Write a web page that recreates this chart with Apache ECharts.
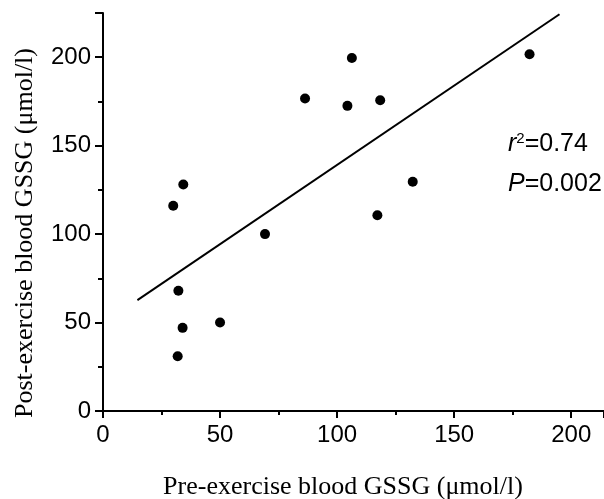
<!DOCTYPE html>
<html>
<head>
<meta charset="utf-8">
<script src="https://cdn.jsdelivr.net/npm/echarts@6/dist/echarts.min.js"></script>
<style>
  html, body { margin: 0; padding: 0; background: #fff; }
  #main { width: 604px; height: 499px; }
</style>
</head>
<body>
<div id="main"></div>
<script>
// pre vs post exercise GSSG values
var preGSSG = [30, 34.3, 69.2, 106.3, 182.2, 86.3, 104.4, 118.4, 132.3, 117.2, 32.2, 34, 50, 31.9]
var postGSSG = [116, 128, 100, 199.6, 201.7, 176.7, 172.5, 175.7, 129.6, 110.7, 68, 47, 50, 31]
// regression line end points
var fitX = [14.7, 195]
var fitY = [62.7, 224.3]

var points = preGSSG.map(function (x, i) { return [x, postGSSG[i]] })
var fitLine = fitX.map(function (x, i) { return [x, fitY[i]] })

var myChart = echarts.init(document.getElementById('main'))

var option = {
  animation: false,
  grid: { left: 103, right: 0, top: 13, bottom: 88, containLabel: false },
  xAxis: {
    type: 'value',
    min: 0,
    max: 214,
    interval: 50,
    splitLine: { show: false },
    axisLine: { onZero: false, lineStyle: { color: '#000', width: 2 } },
    axisTick: { length: 7, lineStyle: { color: '#000', width: 2 } },
    minorTick: { show: true, splitNumber: 2, length: 4, lineStyle: { color: '#000', width: 2 } },
    axisLabel: {
      color: '#000', fontSize: 24, fontFamily: 'Liberation Sans, Arial', margin: 12,
      showMaxLabel: false
    }
  },
  yAxis: {
    type: 'value',
    min: 0,
    max: 225,
    interval: 50,
    splitLine: { show: false },
    axisLine: { onZero: false, lineStyle: { color: '#000', width: 2 } },
    axisTick: { length: 8, lineStyle: { color: '#000', width: 2 } },
    minorTick: { show: true, splitNumber: 2, length: 5, lineStyle: { color: '#000', width: 2 } },
    axisLabel: {
      color: '#000', fontSize: 24, fontFamily: 'Liberation Sans, Arial', margin: 12,
      showMaxLabel: false
    }
  },
  graphic: [
    {
      type: 'text', x: 343, y: 474,
      style: {
        text: 'Pre-exercise blood GSSG (μmol/l)',
        font: '26px "Liberation Serif", "Times New Roman", serif',
        fill: '#000', align: 'center', verticalAlign: 'top'
      }
    },
    {
      type: 'text', x: 12, y: 233, rotation: Math.PI / 2,
      style: {
        text: 'Post-exercise blood GSSG (μmol/l)',
        font: '26px "Liberation Serif", "Times New Roman", serif',
        fill: '#000', align: 'center', verticalAlign: 'top'
      }
    },
    {
      type: 'text', x: 508, y: 131,
      style: {
        rich: {
          i: { fontStyle: 'italic', fontSize: 25, fontFamily: 'Liberation Sans' },
          sup: { fontSize: 15, fontFamily: 'Liberation Sans', verticalAlign: 'top', padding: [0, 0, 12, 0] },
          n: { fontSize: 25, fontFamily: 'Liberation Sans' }
        },
        text: '{i|r}{sup|2}{n|=0.74}',
        fill: '#000'
      }
    },
    {
      type: 'text', x: 508, y: 172,
      style: {
        rich: {
          i: { fontStyle: 'italic', fontSize: 25, fontFamily: 'Liberation Sans' },
          n: { fontSize: 25, fontFamily: 'Liberation Sans' }
        },
        text: '{i|P}{n|=0.002}',
        fill: '#000'
      }
    }
  ],
  series: [
    {
      type: 'scatter',
      data: points,
      symbol: 'circle',
      symbolSize: 10,
      itemStyle: { color: '#000', opacity: 1 }
    },
    {
      type: 'line',
      data: fitLine,
      symbol: 'none',
      lineStyle: { color: '#000', width: 2 }
    }
  ]
}

myChart.setOption(option)
</script>
</body>
</html>
